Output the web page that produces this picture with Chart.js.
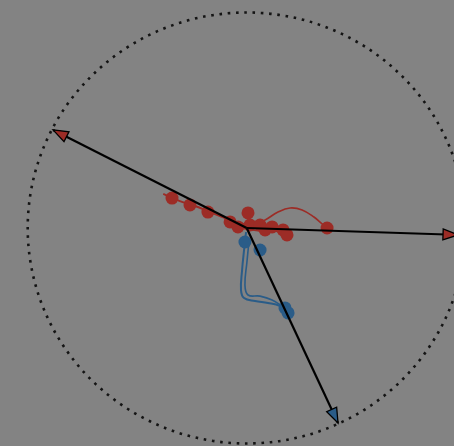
<!DOCTYPE html>
<html>
<head>
<meta charset="utf-8">
<script src="https://cdn.jsdelivr.net/npm/chart.js@4/dist/chart.umd.min.js"></script>
<style>
  html, body { margin: 0; padding: 0; background: #838383; }
  #wrap { width: 454px; height: 446px; position: relative; }
</style>
</head>
<body>
<div id="wrap"><canvas id="biplot"></canvas></div>
<script>
// Variable loadings (arrow tips on the unit correlation circle)
const loadingX = [-0.884, 0.965, 0.417];
const loadingY = [0.455, -0.032, -0.905];

// Group A scores (red)
const redScores = [
  [-0.341, 0.139], [-0.259, 0.107], [-0.177, 0.074], [-0.076, 0.028],
  [0.006, 0.070], [-0.040, 0.005], [0.015, 0.014], [0.061, 0.014],
  [0.084, -0.009], [0.116, 0.005], [0.166, -0.009], [0.184, -0.032],
  [0.367, 0.000]
];
// Group A trajectories
const redPathMain = [
  [-0.381, 0.158], [-0.305, 0.125], [-0.236, 0.102], [-0.168, 0.074],
  [-0.099, 0.046], [-0.031, 0.023], [0.024, 0.009]
];
const redPathArc = [
  [0.024, 0.009], [0.084, 0.037], [0.143, 0.074], [0.198, 0.093],
  [0.253, 0.084], [0.307, 0.051], [0.344, 0.019], [0.367, 0.000]
];
const redPathLow = [
  [-0.031, 0.000], [0.061, -0.014], [0.129, -0.014], [0.184, -0.032]
];

// Group B scores (blue)
const blueScores = [
  [-0.008, -0.065], [0.061, -0.102], [0.175, -0.371], [0.189, -0.394]
];
// Group B trajectories
const bluePathA = [
  [-0.003, -0.019], [-0.012, -0.102], [-0.021, -0.195], [-0.026, -0.288],
  [-0.012, -0.325], [0.038, -0.339], [0.097, -0.348], [0.152, -0.362],
  [0.189, -0.390]
];
const bluePathB = [
  [0.011, -0.056], [0.001, -0.158], [-0.008, -0.265], [0.006, -0.311],
  [0.061, -0.316], [0.116, -0.334], [0.175, -0.371]
];

const RED = '#9c2c26';
const BLUE = '#2a5c88';

const toXY = arr => arr.map(p => ({ x: p[0], y: p[1] }));

function pathSet(arr, color, width) {
  return {
    data: toXY(arr), showLine: true, borderColor: color, borderWidth: width,
    pointRadius: 0, tension: 0.4, fill: false, order: 5
  };
}

const headColors = [RED, RED, BLUE];
const arrowSets = loadingX.map((lx, i) => ({
  data: [{ x: 0, y: 0 }, { x: lx, y: loadingY[i] }],
  showLine: true, borderColor: '#000', borderWidth: 2.2,
  pointRadius: 0, tension: 0, order: 1, arrowHead: headColors[i]
}));

// Dotted unit circle centred on the origin
const unitCircle = {
  id: 'unitCircle',
  beforeDatasetsDraw(chart) {
    const { ctx, scales: { x, y } } = chart;
    const cx = x.getPixelForValue(0), cy = y.getPixelForValue(0);
    const rx = x.getPixelForValue(1) - cx, ry = cy - y.getPixelForValue(1);
    ctx.save();
    ctx.beginPath();
    ctx.ellipse(cx, cy, rx, ry, 0, 0, Math.PI * 2);
    ctx.setLineDash([2.6, 5.7]);
    ctx.lineWidth = 2.6;
    ctx.strokeStyle = '#141414';
    ctx.stroke();
    ctx.restore();
  }
};

// Filled triangular heads at the end of each loading arrow
const arrowHeads = {
  id: 'arrowHeads',
  afterDatasetsDraw(chart) {
    const { ctx } = chart;
    chart.data.datasets.forEach((ds, i) => {
      if (!ds.arrowHead) return;
      const pts = chart.getDatasetMeta(i).data;
      const a = pts[0], b = pts[1];
      const dx = b.x - a.x, dy = b.y - a.y;
      const len = Math.hypot(dx, dy);
      const ux = dx / len, uy = dy / len;
      const L = 15, W = 5.5;
      const bx = b.x - ux * L, by = b.y - uy * L;
      ctx.save();
      ctx.beginPath();
      ctx.moveTo(b.x, b.y);
      ctx.lineTo(bx - uy * W, by + ux * W);
      ctx.lineTo(bx + uy * W, by - ux * W);
      ctx.closePath();
      ctx.fillStyle = ds.arrowHead;
      ctx.fill();
      ctx.lineWidth = 1.3;
      ctx.strokeStyle = '#000';
      ctx.lineJoin = 'miter';
      ctx.stroke();
      ctx.restore();
    });
  }
};

const background = {
  id: 'background',
  beforeDraw(chart) {
    const { ctx, width, height } = chart;
    ctx.save();
    ctx.fillStyle = '#838383';
    ctx.fillRect(0, 0, width, height);
    ctx.restore();
  }
};

new Chart(document.getElementById('biplot'), {
  type: 'scatter',
  data: {
    datasets: [
      ...arrowSets,
      { data: toXY(redScores), backgroundColor: RED, borderWidth: 0, pointRadius: 6.5, order: 3 },
      { data: toXY(blueScores), backgroundColor: BLUE, borderWidth: 0, pointRadius: 6.5, order: 3 },
      pathSet(redPathMain, RED, 2),
      pathSet(redPathArc, RED, 1.6),
      pathSet(redPathLow, RED, 1.6),
      pathSet(bluePathA, BLUE, 2),
      pathSet(bluePathB, BLUE, 1.6)
    ]
  },
  options: {
    responsive: true,
    maintainAspectRatio: false,
    animation: false,
    layout: { padding: 0, autoPadding: false },
    plugins: { legend: { display: false }, tooltip: { enabled: false } },
    scales: {
      x: { type: 'linear', display: false, min: -1.1265, max: 0.9466 },
      y: { type: 'linear', display: false, min: -1.0116, max: 1.058 }
    }
  },
  plugins: [background, unitCircle, arrowHeads]
});
</script>
</body>
</html>
